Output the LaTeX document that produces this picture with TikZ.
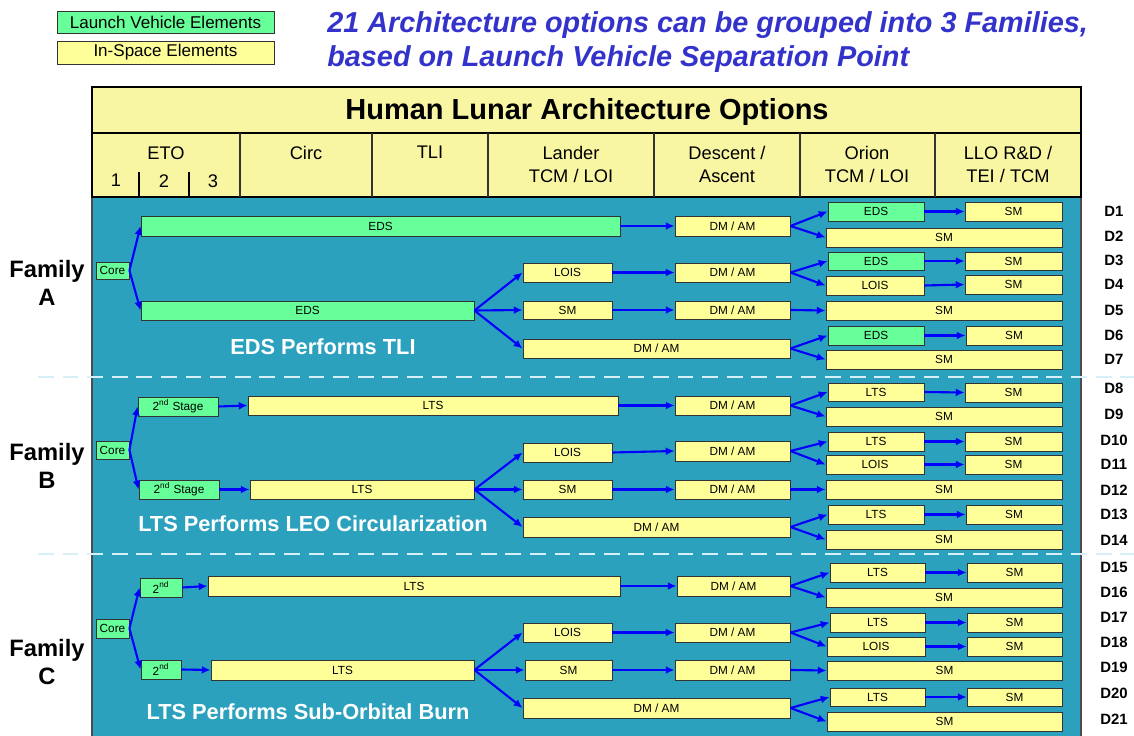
\documentclass[tikz,border=0pt]{standalone}
\usepackage{fontspec}
\setmainfont{Liberation Sans}
\usetikzlibrary{arrows.meta}
\definecolor{lvgreen}{RGB}{102,255,153}
\definecolor{isyellow}{RGB}{255,255,153}
\definecolor{hdyellow}{RGB}{248,246,162}
\definecolor{bgblue}{RGB}{43,161,190}
\definecolor{ttlblue}{RGB}{51,51,204}
\definecolor{dashcol}{RGB}{215,240,248}
\tikzset{
  elem/.style = {draw=black!80, line width=0.5pt, inner sep=0, font=\fontsize{6.7}{7}\selectfont},
  lv/.style = {elem, fill=lvgreen},
  isp/.style = {elem, fill=isyellow},
  flow/.style = {-{Latex[length=5pt,width=4.5pt]}, blue, line width=1.2pt},
  famlbl/.style = {font=\fontsize{13.5}{16}\selectfont\bfseries, align=center},
  dlbl/.style = {font=\fontsize{8.5}{10}\selectfont\bfseries},
  perf/.style = {text=white, font=\fontsize{12.4}{14}\selectfont\bfseries},
  colhd/.style = {font=\fontsize{10.4}{13}\selectfont, align=center, anchor=north, inner sep=0}
}
% box from (x1,y1) to (x2,y2) in pixel units
\newcommand{\blk}[7]{\node[#1, minimum width={(#5-#3)*0.02cm}, minimum height={(#6-#4)*0.02cm}] (#2) at ({(#3+#5)/2},{(#4+#6)/2}) {#7};}
\begin{document}
\begin{tikzpicture}[x=0.02cm, y=-0.02cm]
  \useasboundingbox (0,0) rectangle (1134,736);

  % legend and title
  \blk{lv}{leglv}{57}{11}{274}{33}{\fontsize{9.7}{10}\selectfont Launch Vehicle Elements}
  \blk{isp}{legis}{57}{41}{274}{64}{\fontsize{9.7}{10}\selectfont In-Space Elements}
  \node[anchor=west, text=ttlblue, align=left, inner sep=0, font=\fontsize{16.4}{19.3}\selectfont\bfseries\itshape] (title) at (327,42) {21 Architecture options can be grouped into 3 Families,\\based on Launch Vehicle Separation Point};

  % table
  \fill[bgblue] (92,197) rectangle (1081,736);
  \draw[black!70, line width=0.6pt] (92,197) -- (92,736) (1081,197) -- (1081,736);
  \draw[fill=hdyellow, line width=1.6pt] (92,87) rectangle (1081,197);
  \draw[line width=1.6pt] (92,133) -- (1081,133);
  \foreach \x in {240,372,488,654,800,935}
    \draw[black!80, line width=0.6pt] (\x,133) -- (\x,197);
  \draw[line width=1.4pt] (139,172) -- (139,197) (189,172) -- (189,197);
  \node[font=\fontsize{16.5}{18}\selectfont\bfseries] (hdr) at (587,112) {Human Lunar Architecture Options};
  \node[colhd] (heto) at (166,146) {ETO};
  \node[colhd] (h1) at (116,174) {1};
  \node[colhd] (h2) at (164,174) {2};
  \node[colhd] (h3) at (213,174) {3};
  \node[colhd] (hcirc) at (306,146) {Circ};
  \node[colhd] (htli) at (430,146) {TLI};
  \node[colhd] (hland) at (571,146) {Lander\\TCM / LOI};
  \node[colhd] (hdesc) at (727,146) {Descent /\\Ascent};
  \node[colhd] (horion) at (867,146) {Orion\\TCM / LOI};
  \node[colhd] (hllo) at (1008,146) {LLO R\&D /\\TEI / TCM};

  % family separators
  \foreach \y in {377,554}
    \draw[dashcol, dashed, dash pattern=on 9pt off 5pt, line width=1.2pt] (38,\y) -- (1134,\y);

  \node[famlbl] (fama) at (47,283) {Family\\A};
  \node[famlbl] (famb) at (47,466) {Family\\B};
  \node[famlbl] (famc) at (47,662) {Family\\C};
  \node[perf] (perfa) at (323,347) {EDS Performs TLI};
  \node[perf] (perfb) at (313,524) {LTS Performs LEO Circularization};
  \node[perf] (perfc) at (308,712) {LTS Performs Sub-Orbital Burn};

  \foreach \n/\y in {1/211,2/236,3/260,4/284,5/310,6/335,7/359,8/388,9/414,10/440,11/464,12/490,13/514,14/540,15/567,16/592,17/617,18/642,19/667,20/693,21/719}
    \node[dlbl] (d\n) at (1114,\y) {D\n};

  % Family A
  \blk{lv}{acore}{96}{262}{129}{279}{Core}
  \blk{lv}{atli1}{141}{216}{620}{236}{EDS}
  \blk{lv}{atli2}{141}{301}{474}{320}{EDS}
  \blk{isp}{alois}{523}{263}{612}{282}{LOIS}
  \blk{isp}{asm}{523}{301}{612}{319}{SM}
  \blk{isp}{adm4}{523}{339}{790}{358}{DM / AM}
  \blk{isp}{adm1}{675}{216}{790}{236}{DM / AM}
  \blk{isp}{adm2}{675}{263}{790}{282}{DM / AM}
  \blk{isp}{adm3}{675}{301}{790}{319}{DM / AM}
  \blk{lv}{ao1}{828}{202}{924}{221}{EDS}
  \blk{isp}{ae1}{965}{202}{1062}{221}{SM}
  \blk{isp}{ao2}{826}{228}{1062}{247}{SM}
  \blk{lv}{ao3}{828}{252}{924}{270}{EDS}
  \blk{isp}{ae3}{965}{252}{1062}{270}{SM}
  \blk{isp}{ao4}{826}{276}{924}{295}{LOIS}
  \blk{isp}{ae4}{965}{275}{1062}{294}{SM}
  \blk{isp}{ao5}{826}{301}{1062}{320}{SM}
  \blk{lv}{ao6}{828}{326}{924}{345}{EDS}
  \blk{isp}{ae6}{966}{326}{1062}{345}{SM}
  \blk{isp}{ao7}{826}{350}{1062}{369}{SM}

  % Family B
  \blk{lv}{bcore}{96}{441}{129}{459}{Core}
  \blk{lv}{bst1}{138}{397}{218}{416}{2\textsuperscript{nd} Stage}
  \blk{isp}{btli1}{248}{396}{618}{415}{LTS}
  \blk{lv}{bst2}{139}{480}{219}{499}{2\textsuperscript{nd} Stage}
  \blk{isp}{btli2}{250}{480}{474}{499}{LTS}
  \blk{isp}{blois}{523}{443}{612}{462}{LOIS}
  \blk{isp}{bsm}{523}{480}{612}{499}{SM}
  \blk{isp}{bdm4}{523}{517}{790}{537}{DM / AM}
  \blk{isp}{bdm1}{675}{396}{790}{415}{DM / AM}
  \blk{isp}{bdm2}{675}{441}{790}{461}{DM / AM}
  \blk{isp}{bdm3}{675}{480}{790}{499}{DM / AM}
  \blk{isp}{bo1}{828}{383}{924}{401}{LTS}
  \blk{isp}{be1}{965}{383}{1062}{402}{SM}
  \blk{isp}{bo2}{826}{407}{1062}{426}{SM}
  \blk{isp}{bo3}{828}{432}{924}{451}{LTS}
  \blk{isp}{be3}{965}{432}{1062}{451}{SM}
  \blk{isp}{bo4}{826}{455}{924}{474}{LOIS}
  \blk{isp}{be4}{965}{455}{1062}{474}{SM}
  \blk{isp}{bo5}{826}{480}{1062}{499}{SM}
  \blk{isp}{bo6}{828}{505}{924}{524}{LTS}
  \blk{isp}{be6}{966}{505}{1062}{524}{SM}
  \blk{isp}{bo7}{826}{530}{1062}{549}{SM}

  % Family C
  \blk{lv}{ccore}{96}{619}{129}{638}{Core}
  \blk{lv}{cst1}{140}{578}{182}{597}{2\textsuperscript{nd}}
  \blk{isp}{ctli1}{208}{576}{620}{596}{LTS}
  \blk{lv}{cst2}{141}{660}{181}{679}{2\textsuperscript{nd}}
  \blk{isp}{ctli2}{211}{660}{474}{680}{LTS}
  \blk{isp}{clois}{523}{623}{612}{642}{LOIS}
  \blk{isp}{csm}{525}{660}{612}{680}{SM}
  \blk{isp}{cdm4}{523}{698}{790}{718}{DM / AM}
  \blk{isp}{cdm1}{677}{576}{790}{596}{DM / AM}
  \blk{isp}{cdm2}{675}{623}{790}{642}{DM / AM}
  \blk{isp}{cdm3}{675}{660}{790}{680}{DM / AM}
  \blk{isp}{co1}{830}{563}{925}{582}{LTS}
  \blk{isp}{ce1}{967}{563}{1062}{582}{SM}
  \blk{isp}{co2}{826}{588}{1062}{607}{SM}
  \blk{isp}{co3}{830}{613}{925}{632}{LTS}
  \blk{isp}{ce3}{967}{613}{1062}{632}{SM}
  \blk{isp}{co4}{827}{637}{925}{656}{LOIS}
  \blk{isp}{ce4}{967}{637}{1062}{656}{SM}
  \blk{isp}{co5}{827}{661}{1062}{680}{SM}
  \blk{isp}{co6}{830}{688}{925}{706}{LTS}
  \blk{isp}{ce6}{967}{688}{1062}{706}{SM}
  \blk{isp}{co7}{827}{712}{1062}{731}{SM}

  % connectors
  \foreach \f in {a,b,c}
    \foreach \s/\t in {tli1/dm1, tli2/lois, tli2/sm, tli2/dm4, lois/dm2, sm/dm3, dm1/o1, dm1/o2, dm2/o3, dm2/o4, dm3/o5, dm4/o6, dm4/o7, o1/e1, o3/e3, o4/e4, o6/e6}
      \draw[flow] (\f\s.east) -- (\f\t.west);
  \foreach \s/\t in {acore/atli1, acore/atli2, bcore/bst1, bcore/bst2, bst1/btli1, bst2/btli2, ccore/cst1, ccore/cst2, cst1/ctli1, cst2/ctli2}
    \draw[flow] (\s.east) -- (\t.west);
\end{tikzpicture}
\end{document}
